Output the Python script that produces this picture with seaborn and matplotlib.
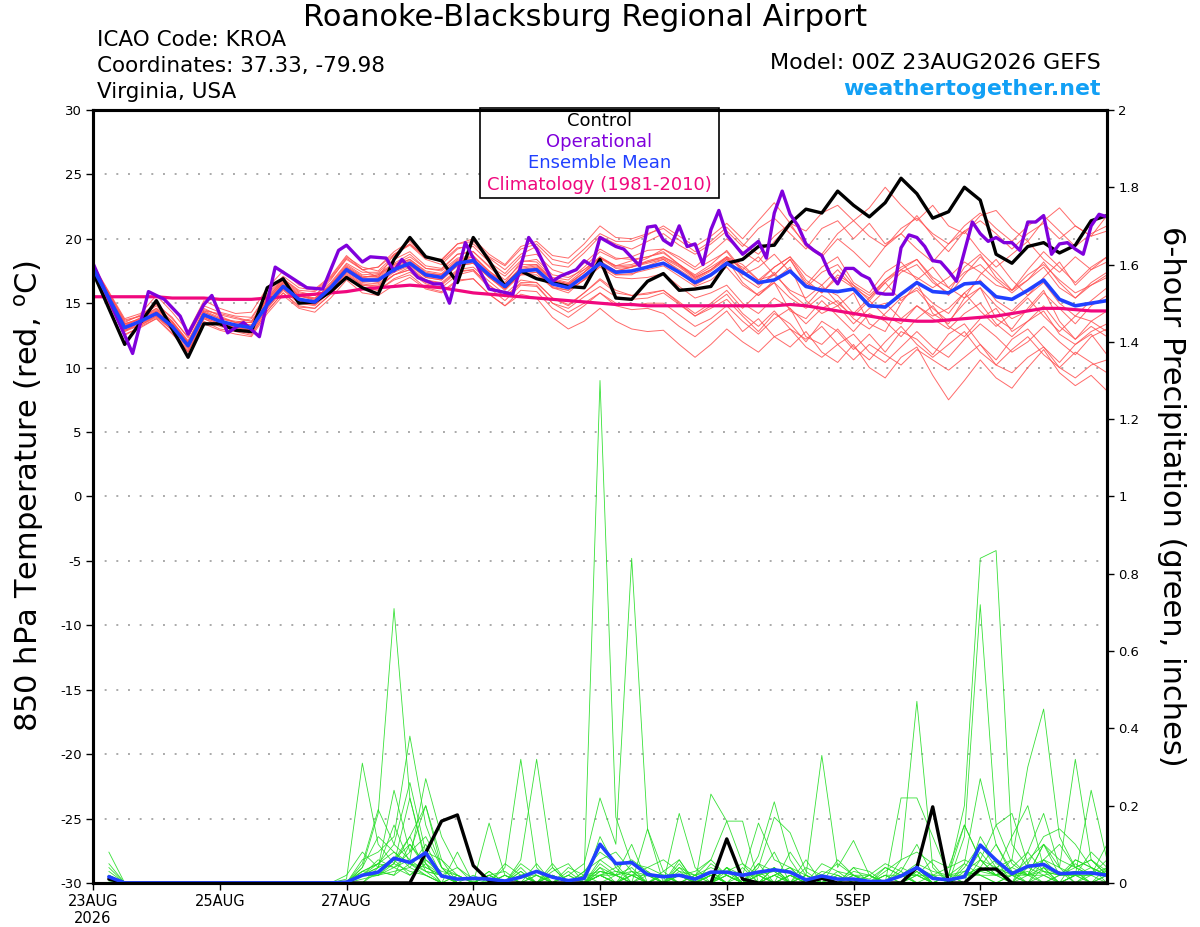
import numpy as np
import pandas as pd
import matplotlib
matplotlib.use("Agg")
import matplotlib.pyplot as plt
import seaborn as sns
from matplotlib.patches import Rectangle

# Pasos de pronostico cada 6 horas (0 a 384 h)
horas = np.arange(0, 385, 6)
horas_lluvia = horas[1:]

etiquetas_x = ["23AUG\n2026", "25AUG", "27AUG", "29AUG", "1SEP", "3SEP", "5SEP", "7SEP"]
ticks_x = [0, 48, 96, 144, 192, 240, 288, 336]

# Temperatura 850 hPa: control, media del ensamble y climatologia
control_temp = [17.4, 14.6, 11.8, 13.5, 15.2, 13.0, 10.8, 13.4, 13.4, 12.9,
                12.8, 16.2, 16.9, 15.0, 15.1, 15.9, 17.0, 16.2, 15.7, 18.4,
                20.1, 18.6, 18.3, 16.6, 20.1, 18.3, 16.3, 17.5, 16.9, 16.6,
                16.3, 16.2, 18.4, 15.4, 15.3, 16.7, 17.3, 16.0, 16.1, 16.3,
                18.1, 18.4, 19.4, 19.5, 21.2, 22.3, 22.0, 23.7, 22.6, 21.7,
                22.8, 24.7, 23.5, 21.6, 22.1, 24.0, 23.0, 18.8, 18.1, 19.4,
                19.7, 18.9, 19.5, 21.4, 21.8]

media_temp = [17.7, 15.4, 13.1, 13.6, 14.2, 13.2, 11.7, 14.1, 13.6, 13.3,
              13.1, 14.9, 16.3, 15.3, 15.1, 16.2, 17.6, 16.8, 16.8, 17.6,
              18.1, 17.2, 17.0, 18.1, 18.3, 17.2, 16.3, 17.5, 17.6, 16.5,
              16.2, 17.1, 18.1, 17.4, 17.5, 17.8, 18.1, 17.4, 16.6, 17.2,
              18.1, 17.4, 16.6, 16.8, 17.5, 16.3, 16.0, 15.9, 16.1, 14.8,
              14.7, 15.7, 16.6, 15.9, 15.8, 16.5, 16.6, 15.5, 15.3, 16.0,
              16.8, 15.3, 14.8, 15.0, 15.2]

clima_temp = [15.5, 15.5, 15.5, 15.5, 15.5, 15.4, 15.4, 15.4, 15.3, 15.3,
              15.3, 15.4, 15.5, 15.6, 15.7, 15.8, 15.9, 16.1, 16.2, 16.3,
              16.4, 16.3, 16.2, 16.0, 15.8, 15.7, 15.6, 15.5, 15.4, 15.3,
              15.2, 15.1, 15.0, 14.9, 14.9, 14.8, 14.8, 14.8, 14.8, 14.8,
              14.8, 14.8, 14.8, 14.8, 14.9, 14.8, 14.6, 14.4, 14.2, 14.0,
              13.8, 13.7, 13.6, 13.6, 13.7, 13.8, 13.9, 14.0, 14.2, 14.4,
              14.6, 14.6, 14.5, 14.4, 14.4]

# Operacional (GFS) cada 3 horas, solo los vertices leidos
op_horas = [0, 15, 21, 27, 33, 36, 42, 45, 51, 57,
            63, 69, 75, 81, 87, 93, 96, 102, 105, 111,
            114, 117, 123, 129, 132, 135, 141, 150, 159, 165,
            168, 174, 177, 183, 186, 189, 192, 198, 201, 207,
            210, 213, 216, 219, 222, 225, 228, 231, 234, 237,
            240, 246, 252, 255, 258, 261, 264, 267, 270, 273,
            276, 279, 282, 285, 288, 291, 294, 297, 300, 303,
            306, 309, 312, 315, 318, 321, 324, 327, 330, 333,
            336, 339, 342, 345, 348, 351, 354, 357, 360, 363,
            366, 369, 372, 375, 378, 381, 384]
op_temp = [18.1, 11.1, 15.9, 15.3, 14.0, 12.6, 14.9, 15.6, 12.7, 13.5,
           12.4, 17.8, 17.0, 16.2, 16.1, 19.1, 19.5, 18.2, 18.6, 18.5,
           17.5, 18.4, 17.0, 16.5, 16.5, 15.0, 19.7, 16.1, 15.7, 20.1,
           19.2, 16.7, 17.1, 17.6, 18.3, 17.9, 20.1, 19.4, 19.2, 17.9,
           20.9, 21.0, 19.9, 19.5, 21.0, 19.4, 19.6, 18.0, 20.7, 22.2,
           20.3, 18.8, 19.8, 18.5, 22.0, 23.7, 21.9, 21.0, 19.6, 19.1,
           18.7, 17.3, 16.5, 17.7, 17.7, 17.2, 16.9, 15.8, 15.7, 15.7,
           19.3, 20.3, 20.1, 19.4, 18.3, 18.2, 17.5, 16.7, 19.0, 21.3,
           20.4, 19.8, 20.1, 19.7, 19.7, 19.1, 21.3, 21.3, 21.8, 18.8,
           19.6, 19.7, 19.2, 18.8, 21.0, 21.9, 21.7]

# Miembros del ensamble (temperatura)
m01 = [17.9, 15.8, 13.6, 14.0, 15.0, 13.8, 12.4, 14.6, 14.0, 13.5, 13.8, 15.6, 16.9,
       15.9, 15.6, 16.8, 18.5, 17.6, 17.0, 18.8, 19.5, 18.4, 18.0, 19.2, 19.6, 18.5,
       17.6, 18.8, 19.4, 18.0, 17.8, 18.9, 20.2, 19.6, 19.2, 19.8, 20.4, 19.5, 18.8,
       19.6, 20.6, 19.4, 20.8, 21.6, 20.4, 19.2, 20.8, 21.4, 20.0, 21.2, 19.6, 20.4,
       21.8, 20.2, 19.0, 20.6, 21.4, 20.4, 19.2, 20.4, 21.2, 20.0, 21.0, 20.2, 20.6]
m02 = [17.4, 15.0, 12.6, 13.1, 13.8, 12.7, 11.2, 13.6, 13.0, 12.8, 12.5, 14.4, 15.8,
       14.8, 14.6, 15.7, 17.0, 16.2, 16.0, 16.9, 17.4, 16.5, 16.2, 17.2, 17.5, 16.2,
       15.2, 16.4, 16.3, 15.0, 14.6, 15.5, 16.3, 15.5, 15.3, 15.4, 15.8, 14.9, 14.0,
       14.6, 15.3, 14.0, 12.8, 14.2, 13.4, 12.0, 13.6, 12.8, 11.4, 12.6, 11.2, 12.8,
       12.2, 11.0, 12.6, 13.4, 11.8, 10.6, 12.2, 13.0, 11.6, 10.4, 11.8, 12.6, 11.0]
m03 = [17.8, 15.6, 13.4, 13.8, 14.6, 13.5, 12.0, 14.4, 14.2, 13.9, 13.6, 15.2, 16.6,
       15.6, 15.3, 16.5, 18.0, 17.2, 17.3, 18.1, 18.8, 17.7, 17.5, 18.5, 18.7, 17.5,
       16.6, 18.2, 18.4, 17.2, 17.0, 17.6, 18.6, 17.9, 18.3, 18.6, 19.0, 18.0, 17.2,
       18.0, 19.1, 17.6, 18.6, 17.2, 18.4, 16.4, 17.8, 18.6, 16.6, 15.8, 17.4, 18.2,
       16.8, 17.8, 16.2, 15.4, 17.2, 18.4, 16.8, 15.6, 17.0, 18.2, 16.4, 17.6, 18.6]
m04 = [17.5, 15.2, 12.9, 13.3, 13.9, 12.9, 11.4, 13.8, 13.3, 13.0, 12.7, 14.6, 16.0,
       15.0, 14.8, 15.9, 17.2, 16.4, 16.4, 17.2, 17.6, 16.8, 16.6, 17.6, 17.8, 16.7,
       15.7, 16.8, 16.6, 15.4, 14.8, 15.8, 16.9, 16.0, 15.6, 15.7, 16.0, 15.1, 14.2,
       15.0, 16.0, 14.6, 15.8, 16.6, 14.4, 13.8, 15.2, 14.0, 12.8, 14.2, 13.6, 12.4,
       13.8, 14.8, 13.2, 12.4, 13.8, 14.6, 12.8, 13.6, 14.8, 13.2, 12.2, 13.6, 12.8]
m05 = [17.9, 15.7, 13.5, 14.1, 14.9, 13.9, 12.3, 14.8, 14.3, 14.0, 13.9, 15.7, 17.1,
       16.2, 16.0, 17.0, 18.6, 17.8, 17.5, 18.7, 19.6, 18.5, 18.4, 19.6, 19.8, 18.6,
       17.9, 19.2, 19.6, 18.4, 18.1, 19.2, 20.4, 19.8, 19.8, 20.3, 21.0, 20.2, 19.4,
       20.2, 21.2, 20.0, 21.4, 22.8, 21.2, 20.6, 22.0, 22.6, 21.4, 22.4, 24.0, 22.6,
       21.4, 22.6, 21.0, 20.4, 21.8, 22.2, 20.8, 19.8, 21.4, 22.4, 21.0, 20.2, 21.8]
m06 = [17.6, 15.3, 13.0, 13.5, 14.3, 13.3, 11.8, 13.9, 13.4, 13.1, 12.9, 14.8, 16.2,
       15.1, 14.9, 16.0, 17.3, 16.4, 16.2, 17.2, 17.8, 16.8, 16.5, 17.5, 17.6, 16.4,
       15.5, 16.5, 16.4, 15.0, 14.3, 15.0, 15.8, 14.8, 14.5, 14.6, 14.2, 13.2, 12.4,
       13.4, 14.4, 12.8, 13.8, 12.4, 11.6, 12.8, 11.2, 10.4, 11.8, 10.0, 9.2, 10.8,
       11.6, 9.4, 7.5, 9.0, 10.6, 9.2, 8.4, 10.0, 11.4, 9.6, 8.6, 9.4, 8.2]
m07 = [17.7, 15.5, 13.3, 13.4, 14.1, 13.0, 11.9, 14.2, 13.5, 13.4, 13.3, 15.3, 16.7,
       15.7, 15.4, 16.4, 17.8, 17.0, 17.2, 18.0, 18.6, 17.7, 17.6, 18.8, 19.0, 17.9,
       17.1, 18.3, 18.2, 17.0, 16.8, 17.8, 19.0, 18.4, 18.6, 19.1, 19.2, 18.4, 17.6,
       18.3, 19.0, 17.4, 16.6, 17.8, 18.6, 16.8, 15.8, 17.2, 16.4, 15.2, 16.6, 17.6,
       18.4, 16.8, 15.6, 17.2, 18.6, 17.4, 16.0, 17.6, 19.0, 17.8, 16.6, 17.8, 18.6]
m08 = [17.3, 14.9, 12.5, 13.2, 13.8, 12.6, 11.3, 13.4, 12.9, 12.6, 12.4, 14.2, 15.6,
       14.6, 14.3, 15.4, 16.8, 15.8, 15.6, 16.4, 17.0, 16.1, 15.8, 16.7, 16.9, 15.7,
       14.8, 16.0, 15.9, 14.6, 13.9, 14.8, 15.8, 15.0, 14.8, 15.0, 15.0, 14.1, 13.2,
       13.8, 14.8, 13.6, 12.6, 13.8, 14.6, 12.4, 11.8, 13.0, 11.6, 10.6, 12.0, 13.2,
       11.8, 10.8, 11.8, 12.8, 11.2, 10.2, 11.4, 12.4, 11.0, 10.0, 11.2, 10.4, 9.6]
m09 = [18.0, 15.9, 13.8, 14.2, 15.6, 14.3, 12.8, 15.2, 14.6, 14.2, 14.3, 16.2, 17.5,
       16.4, 16.1, 17.1, 18.7, 17.6, 17.8, 19.0, 19.8, 18.6, 18.2, 19.3, 19.4, 18.2,
       17.3, 18.6, 18.8, 17.6, 17.2, 18.1, 19.2, 18.5, 18.4, 18.6, 18.9, 18.0, 17.0,
       17.6, 18.6, 17.0, 16.2, 17.4, 15.8, 14.8, 16.2, 15.6, 14.2, 15.4, 16.6, 15.2,
       16.2, 15.0, 14.2, 15.8, 16.8, 15.2, 14.4, 15.6, 16.6, 15.0, 14.0, 15.2, 16.2]
m10 = [17.8, 15.6, 13.2, 13.9, 14.6, 13.6, 12.1, 14.3, 13.8, 13.6, 13.5, 15.4, 16.9,
       16.0, 15.9, 16.9, 18.4, 17.6, 17.8, 18.8, 19.6, 18.6, 18.3, 19.6, 20.0, 18.8,
       18.0, 19.4, 19.8, 18.7, 18.5, 19.6, 21.0, 20.1, 20.0, 20.4, 20.8, 19.9, 19.0,
       19.8, 20.9, 19.6, 18.8, 20.2, 21.2, 19.4, 18.6, 20.0, 19.0, 17.8, 19.4, 20.4,
       19.2, 18.2, 19.6, 20.6, 19.0, 17.8, 18.8, 19.8, 18.4, 17.4, 18.6, 17.6, 18.2]
m11 = [17.5, 15.1, 12.8, 13.6, 14.4, 13.2, 11.5, 14.0, 13.7, 13.3, 13.0, 14.7, 16.1,
       15.2, 15.2, 16.3, 17.5, 16.6, 16.5, 17.4, 17.9, 17.0, 16.8, 17.9, 18.1, 17.0,
       16.1, 17.2, 17.2, 16.2, 16.0, 16.8, 17.8, 17.0, 16.9, 17.0, 17.3, 16.3, 15.4,
       15.8, 16.4, 15.0, 14.2, 15.4, 14.6, 13.4, 14.6, 15.2, 13.8, 13.0, 14.2, 15.4,
       16.0, 14.6, 13.6, 15.0, 16.2, 14.8, 13.8, 14.4, 15.8, 14.6, 13.4, 14.8, 15.6]
m12 = [17.9, 15.8, 13.7, 14.0, 14.8, 13.6, 12.0, 14.5, 14.1, 13.8, 13.6, 15.4, 16.8,
       15.8, 15.6, 16.6, 18.1, 17.4, 17.4, 18.4, 19.0, 17.9, 17.7, 18.8, 19.0, 17.8,
       16.8, 18.0, 18.0, 16.8, 16.5, 17.4, 18.5, 17.9, 18.0, 18.5, 19.2, 18.6, 17.8,
       18.9, 20.0, 19.0, 18.2, 19.8, 21.0, 19.6, 18.8, 20.4, 21.4, 20.2, 19.4, 20.8,
       21.6, 20.4, 19.6, 21.0, 22.0, 20.8, 19.8, 21.0, 21.8, 20.6, 19.4, 20.4, 21.0]
m13 = [17.6, 15.2, 12.8, 13.3, 14.0, 12.9, 11.2, 13.8, 13.2, 12.9, 12.6, 14.4, 15.8,
       14.7, 14.6, 15.7, 17.0, 16.2, 16.0, 16.8, 17.2, 16.2, 15.9, 16.8, 16.9, 15.7,
       14.8, 15.7, 15.4, 13.9, 13.0, 13.6, 14.6, 13.6, 13.0, 12.8, 12.9, 11.8, 10.8,
       11.8, 13.0, 12.0, 11.2, 12.4, 13.0, 11.6, 10.8, 11.8, 12.6, 11.2, 10.4, 11.6,
       12.8, 11.6, 10.8, 12.2, 13.4, 12.4, 11.2, 12.0, 13.2, 12.0, 11.0, 12.4, 13.0]
m14 = [17.8, 15.5, 13.4, 13.7, 14.2, 13.3, 11.8, 14.1, 13.6, 13.2, 13.2, 15.0, 16.4,
       15.6, 15.2, 16.3, 17.7, 17.0, 17.1, 17.9, 18.4, 17.5, 17.3, 18.4, 18.6, 17.5,
       16.5, 17.8, 18.0, 16.9, 16.6, 17.6, 18.5, 17.7, 17.8, 18.2, 18.5, 17.8, 16.9,
       17.6, 18.5, 17.2, 17.8, 18.8, 17.4, 16.2, 17.4, 18.0, 16.4, 15.6, 16.8, 17.8,
       18.4, 17.0, 16.2, 17.4, 18.0, 16.8, 15.8, 16.8, 17.8, 16.2, 15.4, 16.6, 17.4]
m15 = [17.7, 15.4, 13.1, 13.6, 14.1, 13.1, 11.6, 14.2, 13.5, 13.1, 13.0, 14.8, 16.3,
       15.3, 15.0, 16.1, 17.5, 16.8, 16.6, 17.7, 18.2, 17.1, 16.9, 18.0, 18.2, 17.0,
       16.0, 17.2, 17.4, 16.2, 15.8, 16.9, 18.0, 17.2, 17.2, 17.9, 18.4, 17.5, 16.4,
       17.1, 18.4, 16.6, 15.6, 16.8, 17.8, 15.2, 14.2, 14.8, 15.8, 13.4, 12.8, 15.0,
       16.6, 14.2, 13.4, 15.4, 16.2, 13.8, 13.0, 14.6, 16.0, 13.6, 12.2, 13.2, 12.4]
m16 = [17.6, 15.2, 13.0, 13.6, 14.3, 13.4, 11.9, 14.0, 13.5, 13.2, 13.1, 14.9, 16.4,
       15.4, 15.1, 16.2, 17.6, 16.9, 16.9, 17.6, 18.0, 17.2, 17.1, 18.2, 18.6, 17.4,
       16.5, 17.6, 17.7, 16.6, 16.4, 17.2, 18.2, 17.5, 17.8, 18.3, 18.6, 18.0, 17.1,
       17.8, 18.6, 17.6, 16.4, 17.2, 16.0, 15.4, 16.4, 15.0, 14.0, 15.2, 14.0, 13.4,
       14.8, 13.8, 13.0, 14.2, 15.0, 13.4, 12.4, 13.6, 14.4, 12.6, 11.8, 12.8, 13.4]
m17 = [17.8, 15.6, 13.3, 13.8, 14.5, 13.5, 11.9, 14.3, 13.8, 13.5, 13.3, 15.1, 16.5,
       15.5, 15.4, 16.4, 17.9, 17.1, 17.0, 17.8, 18.3, 17.3, 17.2, 18.3, 18.4, 17.3,
       16.4, 17.7, 17.9, 16.8, 16.5, 17.4, 18.3, 17.5, 17.8, 18.1, 18.4, 17.6, 16.8,
       17.5, 18.4, 17.8, 16.8, 17.8, 18.6, 17.2, 16.4, 17.6, 16.2, 15.4, 16.8, 17.6,
       17.0, 16.2, 17.0, 18.2, 17.4, 16.4, 16.0, 17.2, 18.0, 16.8, 15.8, 16.4, 17.0]
m18 = [17.5, 15.1, 12.9, 13.4, 14.0, 13.0, 11.6, 13.9, 13.4, 13.2, 12.8, 14.6, 16.1,
       15.0, 14.9, 16.0, 17.4, 16.5, 16.3, 17.2, 17.6, 16.6, 16.4, 17.4, 17.6, 16.4,
       15.5, 16.6, 16.6, 15.4, 14.9, 15.8, 16.8, 15.8, 15.6, 15.8, 16.0, 15.0, 14.0,
       14.8, 15.7, 14.2, 13.2, 14.4, 13.0, 12.2, 13.2, 11.8, 10.6, 11.8, 11.0, 10.2,
       11.4, 10.6, 9.8, 10.8, 11.8, 10.2, 9.6, 10.8, 11.6, 10.0, 9.2, 10.2, 10.6]
m19 = [17.9, 15.7, 13.4, 13.8, 14.4, 13.4, 11.9, 14.4, 13.9, 13.5, 13.5, 15.3, 16.6,
       15.6, 15.3, 16.4, 17.8, 17.0, 17.2, 18.0, 18.4, 17.4, 17.2, 18.2, 18.4, 17.3,
       16.4, 17.6, 17.8, 16.8, 16.4, 17.4, 18.6, 17.8, 17.9, 18.2, 18.6, 17.9, 17.0,
       17.6, 18.6, 18.0, 16.8, 17.2, 18.4, 16.6, 15.8, 17.0, 16.2, 14.8, 16.0, 17.4,
       18.0, 16.6, 15.8, 17.8, 18.8, 17.0, 16.0, 16.8, 18.2, 16.6, 15.4, 16.4, 17.2]
m20 = [17.6, 15.3, 13.0, 13.5, 14.2, 13.1, 11.7, 14.0, 13.6, 13.3, 13.1, 14.8, 16.2,
       15.2, 15.0, 16.1, 17.5, 16.7, 16.7, 17.5, 18.0, 17.0, 16.8, 17.9, 18.1, 17.0,
       16.1, 17.3, 17.4, 16.3, 16.0, 16.8, 17.9, 17.2, 17.3, 17.6, 17.9, 17.1, 16.3,
       16.8, 17.8, 16.4, 15.6, 16.6, 15.4, 14.6, 15.6, 14.8, 13.4, 14.6, 15.0, 13.8,
       14.8, 14.0, 14.6, 15.8, 14.4, 13.2, 14.2, 15.4, 14.0, 12.8, 14.0, 13.6, 14.4]
miembros_temp = [m01, m02, m03, m04, m05, m06, m07, m08, m09, m10,
                 m11, m12, m13, m14, m15, m16, m17, m18, m19, m20]

# Precipitacion en 6 h (pulgadas), desde la hora 6
control_lluvia = [0.01, 0, 0, 0, 0, 0, 0, 0, 0, 0, 0, 0, 0, 0, 0, 0,
                  0, 0, 0, 0, 0.078, 0.16, 0.176, 0.045, 0.005, 0, 0, 0, 0, 0, 0, 0,
                  0, 0, 0, 0, 0, 0, 0, 0.114, 0.01, 0, 0, 0, 0, 0.012, 0, 0,
                  0, 0, 0, 0.04, 0.197, 0, 0, 0.036, 0.036, 0, 0, 0, 0, 0, 0, 0]
media_lluvia = [0.016, 0, 0, 0, 0, 0, 0, 0, 0, 0, 0, 0, 0, 0, 0, 0.002,
                0.02, 0.028, 0.064, 0.053, 0.078, 0.018, 0.01, 0.012, 0.01, 0.005, 0.015, 0.03, 0.015, 0.006, 0.012, 0.10,
                0.05, 0.053, 0.022, 0.016, 0.02, 0.01, 0.028, 0.028, 0.02, 0.028, 0.034, 0.028, 0.008, 0.018, 0.01, 0.01,
                0.004, 0.004, 0.018, 0.04, 0.012, 0.008, 0.016, 0.098, 0.059, 0.024, 0.043, 0.048, 0.024, 0.026, 0.026, 0.02]

p01 = [.08, 0, 0, 0, 0, 0, 0, 0, 0, 0, 0, 0, 0, 0, 0, .01,
       .31, .10, .05, .12, .03, 0, 0, 0, .02, 0, 0, .05, 0, 0, 0, .02,
       0, .03, 0, .02, 0, 0, .05, .02, 0, 0, .04, 0, 0, .02, 0, 0,
       0, 0, 0, .03, 0, 0, .05, .27, .10, .02, 0, .04, 0, .02, 0, 0]
p02 = [.05, 0, 0, 0, 0, 0, 0, 0, 0, 0, 0, 0, 0, 0, 0, 0,
       .04, .18, .71, .22, .05, .02, 0, 0, 0, 0, .04, 0, 0, .02, 0, .03,
       .02, 0, .03, 0, .06, 0, 0, .04, 0, 0, 0, .02, 0, 0, .06, .02,
       0, 0, .02, 0, 0, 0, 0, .03, .06, 0, .08, .18, .04, 0, .03, .02]
p03 = [.04, 0, 0, 0, 0, 0, 0, 0, 0, 0, 0, 0, 0, 0, 0, 0,
       .06, .08, .12, .38, .15, .04, 0, 0, .02, .03, 0, 0, 0, 0, .03, .06,
       .08, .03, .02, 0, .04, .02, .06, .16, .05, 0, .02, .04, 0, 0, 0, .04,
       0, 0, .06, .08, .05, 0, 0, .12, .05, .03, 0, .06, .04, .32, .06, .02]
p04 = [.03, 0, 0, 0, 0, 0, 0, 0, 0, 0, 0, 0, 0, 0, 0, 0,
       .02, .05, .10, .06, .27, .12, .04, .01, 0, .05, .02, .03, 0, .04, .02, 1.30,
       .17, .05, .02, 0, .04, 0, .03, 0, 0, .05, .03, 0, .06, 0, 0, .02,
       .01, .04, .02, .04, 0, 0, .02, .04, .10, .03, .02, .10, .06, .04, .02, .03]
p05 = [.02, 0, 0, 0, 0, 0, 0, 0, 0, 0, 0, 0, 0, 0, 0, 0,
       0, .04, .24, .08, .20, .06, 0, 0, .03, 0, 0, .02, 0, .02, .05, .22,
       .10, .84, .14, .03, 0, .02, 0, .04, 0, .02, .08, 0, .02, 0, 0, 0,
       .02, .05, .03, 0, 0, .02, .15, .06, .02, 0, .05, .03, .02, .04, .06, .02]
p06 = [.015, 0, 0, 0, 0, 0, 0, 0, 0, 0, 0, 0, 0, 0, 0, 0,
       .03, .02, .06, .10, .04, .02, 0, 0, 0, 0, .06, .32, .04, 0, 0, .02,
       .04, 0, 0, .03, .06, 0, .02, 0, 0, .03, 0, .02, 0, .05, .03, 0,
       0, 0, .04, .02, 0, .02, .20, .84, .86, .10, .04, .06, .02, .03, 0, .04]
p07 = [.01, 0, 0, 0, 0, 0, 0, 0, 0, 0, 0, 0, 0, 0, 0, 0,
       .02, .04, .15, .05, .02, 0, .08, 0, 0, 0, .03, 0, 0, 0, 0, .04,
       0, .02, 0, 0, .05, 0, .23, .16, .16, 0, .04, 0, .02, 0, 0, .03,
       .02, 0, 0, 0, 0, 0, .12, .72, .15, .05, .02, .03, 0, .06, .04, 0]
p08 = [0, 0, 0, 0, 0, 0, 0, 0, 0, 0, 0, 0, 0, 0, 0, 0,
       .05, .19, .10, .26, .08, .06, .02, 0, .155, .02, 0, 0, .02, 0, 0, .05,
       .02, .10, 0, .02, 0, 0, 0, .04, 0, .07, .21, .06, 0, .02, 0, 0,
       0, .03, .06, .47, .04, 0, .02, .08, .03, .12, .20, .04, 0, .02, .24, .06]
p09 = [0, 0, 0, 0, 0, 0, 0, 0, 0, 0, 0, 0, 0, 0, 0, .02,
       .08, .04, .06, .12, .20, .04, 0, 0, .03, 0, .02, 0, .05, 0, .02, .02,
       0, .05, .04, .06, .03, 0, 0, .02, 0, .05, 0, .08, .02, .33, .04, .11,
       .02, 0, .22, .22, .12, .02, 0, .06, .04, .02, .06, .10, .02, .05, .02, .10]
p10 = [0, 0, 0, 0, 0, 0, 0, 0, 0, 0, 0, 0, 0, 0, 0, 0,
       .02, .06, .04, .08, .12, .04, .02, 0, 0, .04, .32, .04, 0, .03, 0, .06,
       .03, .02, 0, 0, .18, .04, 0, .04, .02, .155, .06, .04, .02, 0, .03, .02,
       0, .02, .02, .04, .02, .04, .06, .04, .02, .06, .30, .45, .12, .04, .06, .03]
p11 = [.02, 0, 0, 0, 0, 0, 0, 0, 0, 0, 0, 0, 0, 0, 0, 0,
       .04, .12, .08, .05, .03, .02, 0, 0, 0, 0, .05, .02, 0, 0, .03, .08,
       .05, 0, .14, 0, .02, .03, .06, .02, 0, .04, .17, .13, .03, 0, 0, .04,
       .03, 0, 0, .02, .06, .04, .15, .06, .15, .18, .05, .12, .14, .10, .04, .02]
p12 = [0, 0, 0, 0, 0, 0, 0, 0, 0, 0, 0, 0, 0, 0, 0, 0,
       .02, .03, .05, .22, .06, .03, .02, 0, 0, .02, 0, 0, .02, 0, 0, .12,
       .04, .06, .03, 0, .02, 0, .02, .03, .05, .02, 0, 0, .04, .02, 0, 0,
       0, .04, .02, .04, 0, 0, .03, .06, .02, .04, .08, .03, .02, .06, .04, .02]
p13 = [0, 0, 0, 0, 0, 0, 0, 0, 0, 0, 0, 0, 0, 0, 0, .005,
       .03, .05, .08, .04, .10, .02, .04, 0, .02, 0, .02, 0, .03, .05, 0, .03,
       .02, .04, 0, 0, .03, .02, .03, 0, 0, .02, .04, 0, 0, .03, .02, 0,
       .02, 0, .03, .10, .02, 0, .04, .10, .04, .06, .02, .10, .04, .02, .08, .04]
p14 = [.01, 0, 0, 0, 0, 0, 0, 0, 0, 0, 0, 0, 0, 0, 0, 0,
       .02, .04, .06, .02, .05, 0, 0, .02, 0, 0, .03, 0, .04, 0, 0, .02,
       .03, .02, .04, .02, 0, 0, .02, 0, .04, 0, .02, .04, 0, .02, .05, .02,
       0, 0, .02, .05, .03, .02, 0, .04, .02, .04, .02, .06, .10, .04, .02, .06]
p15 = [0, 0, 0, 0, 0, 0, 0, 0, 0, 0, 0, 0, 0, 0, 0, 0,
       .02, .02, .04, .06, .03, .02, 0, 0, 0, .02, 0, 0, 0, .02, 0, .02,
       0, .02, .02, 0, 0, .02, .04, .02, 0, 0, 0, .02, 0, 0, .02, 0,
       0, .02, 0, .03, 0, 0, .02, .03, .04, 0, .02, .04, .02, .02, .02, .03]
p16 = [.01, 0, 0, 0, 0, 0, 0, 0, 0, 0, 0, 0, 0, 0, 0, 0,
       0, .03, .02, .10, .05, 0, .02, 0, 0, 0, .02, .02, 0, 0, .02, .03,
       .02, 0, 0, .02, .02, 0, 0, .03, 0, .02, .03, 0, .02, 0, 0, .02,
       .02, 0, .02, 0, .02, .02, .05, .02, 0, .02, .03, 0, .02, .03, 0, .02]
p17 = [0, 0, 0, 0, 0, 0, 0, 0, 0, 0, 0, 0, 0, 0, 0, 0,
       .01, .02, .03, .04, .02, 0, 0, 0, .02, 0, 0, .02, 0, 0, 0, .04,
       .02, .03, 0, 0, .02, 0, .02, 0, 0, .02, 0, .02, 0, 0, 0, 0,
       0, 0, .02, .02, 0, .02, .02, .03, .02, .02, 0, .02, .03, 0, .02, 0]
p18 = [.02, 0, 0, 0, 0, 0, 0, 0, 0, 0, 0, 0, 0, 0, 0, 0,
       .03, .05, .04, .02, .06, .02, 0, 0, 0, .02, 0, 0, .02, 0, .02, 0,
       .02, 0, .02, .02, 0, .02, 0, .02, 0, 0, .02, 0, .02, 0, 0, .02,
       0, .02, 0, .02, .02, 0, .02, .04, .02, 0, .04, .02, 0, .02, .04, .02]
p19 = [0, 0, 0, 0, 0, 0, 0, 0, 0, 0, 0, 0, 0, 0, 0, 0,
       .02, .02, .05, .03, .02, 0, .02, 0, 0, 0, .02, 0, 0, 0, 0, .02,
       0, .02, 0, .02, 0, 0, .02, 0, .02, .02, 0, 0, 0, .02, 0, 0,
       .02, 0, .02, 0, 0, .02, .03, .02, 0, .02, .02, .02, 0, .02, .02, .04]
p20 = [.005, 0, 0, 0, 0, 0, 0, 0, 0, 0, 0, 0, 0, 0, 0, 0,
       .02, .03, .02, .05, .04, .02, 0, 0, .02, 0, 0, 0, .02, 0, 0, .02,
       .02, 0, 0, 0, .02, 0, 0, .02, 0, 0, .02, 0, 0, 0, .02, 0,
       0, 0, .02, .02, 0, 0, .02, .02, .02, .03, .02, 0, .02, .02, 0, .02]
miembros_lluvia = [p01, p02, p03, p04, p05, p06, p07, p08, p09, p10,
                   p11, p12, p13, p14, p15, p16, p17, p18, p19, p20]

for serie in miembros_temp + [control_temp, media_temp, clima_temp]:
    assert len(serie) == len(horas), len(serie)
for serie in miembros_lluvia + [control_lluvia, media_lluvia]:
    assert len(serie) == len(horas_lluvia), len(serie)

n = len(miembros_temp)
df_temp = pd.DataFrame({
    "hora": np.tile(horas, n),
    "temp": np.concatenate(miembros_temp),
    "miembro": np.repeat(np.arange(n), len(horas)),
})
df_lluvia = pd.DataFrame({
    "hora": np.tile(horas_lluvia, n),
    "lluvia": np.concatenate(miembros_lluvia),
    "miembro": np.repeat(np.arange(n), len(horas_lluvia)),
})

color_op = "#8000dc"
color_media = "#2040ff"
color_clima = "#f0087e"

sns.set_theme(style="white")
plt.rcParams["font.family"] = ["DejaVu Sans"]
plt.rcParams["axes.unicode_minus"] = False
plt.rcParams["text.color"] = "black"
plt.rcParams["axes.labelcolor"] = "black"
plt.rcParams["xtick.color"] = "black"
plt.rcParams["ytick.color"] = "black"

fig = plt.figure(figsize=(12, 9.27), dpi=100)
ax = fig.add_axes([0.0775, 0.0475, 0.845, 0.8339])
ax2 = ax.twinx()

# --- Temperatura ---
sns.lineplot(data=df_temp, x="hora", y="temp", units="miembro", estimator=None,
             color="#ff5050", lw=0.7, alpha=0.85, ax=ax, legend=False)
sns.lineplot(x=horas, y=clima_temp, color=color_clima, lw=2.3, ax=ax)
sns.lineplot(x=horas, y=control_temp, color="black", lw=2.4, ax=ax)
sns.lineplot(x=op_horas, y=op_temp, color=color_op, lw=2.4, ax=ax)
sns.lineplot(x=horas, y=media_temp, color=color_media, lw=2.6, ax=ax)

# --- Precipitacion ---
sns.lineplot(data=df_lluvia, x="hora", y="lluvia", units="miembro", estimator=None,
             color="#22dd22", lw=0.6, alpha=0.9, ax=ax2, legend=False)
sns.lineplot(x=horas_lluvia, y=control_lluvia, color="black", lw=2.4, ax=ax2)
sns.lineplot(x=horas_lluvia, y=media_lluvia, color=color_media, lw=2.6, ax=ax2)

ax.set_xlim(0, 384)
ax.set_ylim(-30, 30)
ax2.set_ylim(0, 2)

ax.set_xticks(ticks_x)
ax.set_xticklabels(etiquetas_x)
ax.set_yticks(range(-30, 31, 5))
ax2.set_yticks([0, 0.2, 0.4, 0.6, 0.8, 1, 1.2, 1.4, 1.6, 1.8, 2])
ax2.set_yticklabels(["0", "0.2", "0.4", "0.6", "0.8", "1", "1.2", "1.4", "1.6", "1.8", "2"])

ax.grid(axis="y", color="#aaaaaa", linestyle=(0, (1, 5)), lw=1.4)
ax.set_axisbelow(True)

ax.tick_params(axis="both", direction="out", length=5, width=1, labelsize=9.5,
               bottom=True, left=True, colors="black", pad=3)
ax.tick_params(axis="x", labelsize=10.5, pad=3)
ax2.tick_params(axis="y", direction="out", length=5, width=1, labelsize=9.5,
                right=True, colors="black", pad=3)

for a in (ax, ax2):
    for s in a.spines.values():
        s.set_linewidth(2.2)
        s.set_color("black")

ax.set_xlabel("")
ax.set_ylabel("850 hPa Temperature (red, $^{\\mathregular{o}}$C)", fontsize=22)
ax.yaxis.set_label_coords(-0.046, 0.5)
ax2.set_ylabel("6-hour Precipitation (green, inches)", fontsize=22, rotation=270,
               va="center")
ax2.yaxis.set_label_coords(1.064, 0.5)

# Caja de leyenda con texto de colores
ax.add_patch(Rectangle((0.3817, 0.8862), 0.2357, 0.1164, transform=ax.transAxes,
                       facecolor="white", edgecolor="black", lw=1.2, zorder=6,
                       clip_on=False))
nombres = ["Control", "Operational", "Ensemble Mean", "Climatology (1981-2010)"]
colores = ["black", color_op, color_media, color_clima]
alturas = [0.9858, 0.9586, 0.9314, 0.9030]
for nombre, c, yy in zip(nombres, colores, alturas):
    ax.text(0.4995, yy, nombre, color=c, fontsize=13, ha="center", va="center",
            transform=ax.transAxes, zorder=7)

# Encabezado
fig.text(0.4875, 0.9806, "Roanoke-Blacksburg Regional Airport", ha="center", va="center",
         fontsize=22)
fig.text(0.0808, 0.957, "ICAO Code: KROA", ha="left", va="center", fontsize=15.5)
fig.text(0.0808, 0.9288, "Coordinates: 37.33, -79.98", ha="left", va="center", fontsize=15.5)
fig.text(0.0808, 0.9008, "Virginia, USA", ha="left", va="center", fontsize=15.5)
fig.text(0.9175, 0.932, "Model: 00Z 23AUG2026 GEFS", ha="right", va="center", fontsize=16)
fig.text(0.9175, 0.904, "weathertogether.net", ha="right", va="center", fontsize=15.8,
         fontweight="bold", color="#12a0f5")

fig.savefig("out.png", dpi=100)
